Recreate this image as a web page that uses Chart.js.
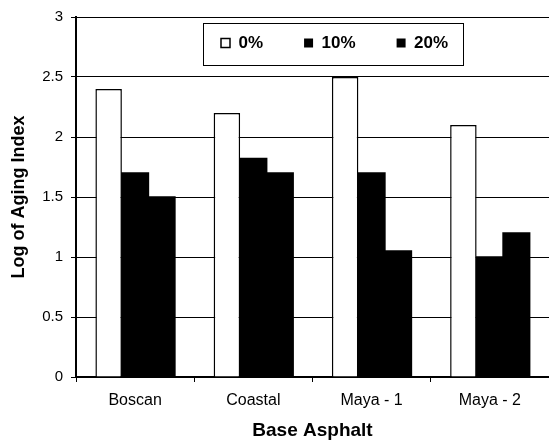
<!DOCTYPE html>
<html>
<head>
<meta charset="utf-8">
<script src="https://cdn.jsdelivr.net/npm/chart.js@4.4.1/dist/chart.umd.min.js"></script>
<style>
  html, body { margin: 0; padding: 0; background: #fff; overflow: hidden; }
  #wrap { width: 549px; height: 443px; }
</style>
</head>
<body>
<div id="wrap"><canvas id="agingChart" width="549" height="443"></canvas></div>
<script>
const categories = ['Boscan', 'Coastal', 'Maya - 1', 'Maya - 2'];
const seriesNames = ['0%', '10%', '20%'];
const values0 = [2.4, 2.2, 2.5, 2.1];
const values10 = [1.7, 1.82, 1.7, 1.0];
const values20 = [1.5, 1.7, 1.05, 1.2];
const yMin = 0, yMax = 3, yStep = 0.5;

const FONT = '"Liberation Sans", Arial, sans-serif';

// legend sits in a framed box inside the plot, moved there after layout
const legendFrame = {
    id: 'legendFrame',
    afterLayout(chart) {
        const lg = chart.legend;
        lg.left = 180;
        lg.right = chart.width;
        lg.top = -6.5;
        lg.bottom = 60;
    },
    afterDraw(chart) {
        const c = chart.ctx;
        c.save();
        c.strokeStyle = '#000';
        c.lineWidth = 1;
        c.strokeRect(203.5, 23.5, 260, 42);
        c.restore();
    }
};

const ctx = document.getElementById('agingChart').getContext('2d');
new Chart(ctx, {
    type: 'bar',
    data: {
        labels: categories,
        datasets: [
            { label: seriesNames[0], data: values0, backgroundColor: '#fff', borderColor: '#000', borderWidth: 1.5 },
            { label: seriesNames[1], data: values10, backgroundColor: '#000', borderColor: '#000', borderWidth: 0, inflateAmount: 0.8 },
            { label: seriesNames[2], data: values20, backgroundColor: '#000', borderColor: '#000', borderWidth: 0, inflateAmount: 0.8 }
        ]
    },
    options: {
        responsive: false,
        animation: false,
        layout: { padding: { top: 12, right: 0, bottom: 0, left: 0 } },
        datasets: { bar: { categoryPercentage: 0.672, barPercentage: 1.0 } },
        plugins: {
            legend: {
                position: 'top',
                align: 'start',
                maxHeight: 1,
                labels: {
                    color: '#000',
                    boxWidth: 9,
                    boxHeight: 9,
                    padding: 41,
                    font: { family: FONT, size: 17, weight: 'bold' }
                }
            },
            tooltip: { enabled: false }
        },
        scales: {
            x: {
                offset: true,
                grid: { display: true, drawOnChartArea: false, offset: true, tickLength: 5, color: '#000', tickColor: '#000' },
                border: { display: true, color: '#000', width: 1.5 },
                ticks: { color: '#000', padding: 9, maxRotation: 0, font: { family: FONT, size: 16 } },
                title: {
                    display: true, text: 'Base Asphalt', color: '#000',
                    padding: { top: 9, bottom: 1 },
                    font: { family: FONT, size: 19, weight: 'bold' }
                },
                afterFit(scale) { scale.height = 66; }
            },
            y: {
                min: yMin, max: yMax,
                grid: { color: '#000', lineWidth: 1, tickLength: 5, tickColor: '#000' },
                border: { display: true, color: '#000', width: 2 },
                ticks: {
                    stepSize: yStep, color: '#000', padding: 8,
                    font: { family: FONT, size: 15 },
                    callback: (v) => String(Number(v.toFixed(2)))
                },
                title: {
                    display: true, text: 'Log of Aging Index', color: '#000',
                    padding: { top: 8, bottom: 4 },
                    font: { family: FONT, size: 18, weight: 'bold' }
                },
                afterFit(scale) { scale.width = 76; }
            }
        }
    },
    plugins: [legendFrame]
});
</script>
</body>
</html>
